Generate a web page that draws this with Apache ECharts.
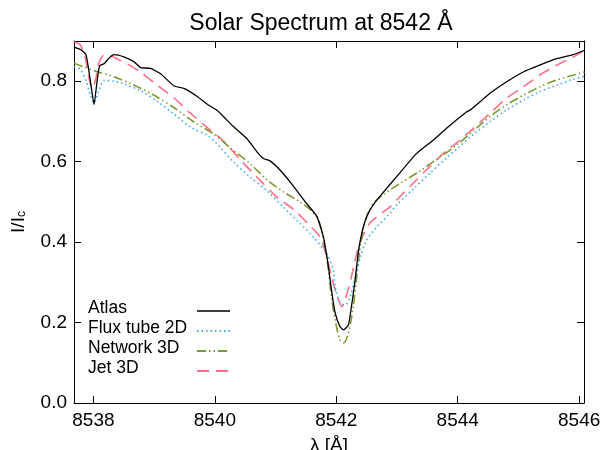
<!DOCTYPE html>
<html>
<head>
<meta charset="utf-8">
<script src="https://cdn.jsdelivr.net/npm/echarts@6/dist/echarts.min.js"></script>
<style>html,body{margin:0;padding:0;background:#fff}#c{width:610px;height:450px}</style>
</head>
<body>
<div id="c"></div>
<script>
// ---- data (wavelength [Å], I/Ic) ----
const seriesNames = ['Atlas', 'Flux tube 2D', 'Network 3D', 'Jet 3D'];
const xTicks = [8538, 8540, 8542, 8544, 8546];
const yTicks = [0.0, 0.2, 0.4, 0.6, 0.8];

const atlas = [[8537.68,0.885],[8537.80,0.878],[8537.88,0.865],[8537.95,0.80],[8538.01,0.742],[8538.06,0.80],[8538.10,0.838],[8538.18,0.844],[8538.26,0.858],[8538.34,0.866],[8538.51,0.860],[8538.67,0.848],[8538.78,0.834],[8538.94,0.832],[8539.11,0.818],[8539.33,0.788],[8539.49,0.782],[8539.71,0.762],[8539.88,0.742],[8540.04,0.727],[8540.30,0.688],[8540.53,0.657],[8540.69,0.625],[8540.80,0.608],[8540.91,0.602],[8541.08,0.578],[8541.29,0.540],[8541.51,0.496],[8541.68,0.464],[8541.79,0.412],[8541.87,0.340],[8541.92,0.282],[8541.98,0.225],[8542.06,0.190],[8542.12,0.182],[8542.20,0.194],[8542.25,0.240],[8542.31,0.305],[8542.36,0.372],[8542.42,0.422],[8542.50,0.463],[8542.61,0.493],[8542.77,0.523],[8542.99,0.562],[8543.32,0.620],[8543.60,0.654],[8543.87,0.690],[8544.15,0.724],[8544.22,0.730],[8544.37,0.749],[8544.53,0.770],[8544.80,0.798],[8545.08,0.823],[8545.35,0.840],[8545.63,0.856],[8545.90,0.866],[8546.09,0.877]];

const fluxTube = [[8537.68,0.836],[8537.78,0.830],[8537.88,0.800],[8537.95,0.765],[8538.01,0.746],[8538.08,0.772],[8538.18,0.802],[8538.34,0.800],[8538.51,0.793],[8538.78,0.776],[8539.05,0.750],[8539.33,0.718],[8539.60,0.686],[8539.88,0.665],[8540.03,0.645],[8540.30,0.600],[8540.58,0.562],[8540.85,0.529],[8541.12,0.488],[8541.40,0.447],[8541.62,0.413],[8541.84,0.372],[8541.95,0.331],[8541.98,0.290],[8542.06,0.250],[8542.15,0.244],[8542.23,0.265],[8542.31,0.314],[8542.40,0.364],[8542.50,0.405],[8542.67,0.438],[8542.88,0.471],[8542.99,0.492],[8543.27,0.532],[8543.54,0.571],[8543.82,0.610],[8544.01,0.635],[8544.26,0.668],[8544.53,0.699],[8544.80,0.728],[8545.08,0.753],[8545.35,0.774],[8545.63,0.790],[8545.90,0.805],[8546.09,0.812]];

const network = [[8537.68,0.845],[8538.01,0.826],[8538.34,0.811],[8538.67,0.790],[8539.00,0.765],[8539.33,0.734],[8539.66,0.698],[8539.99,0.668],[8540.27,0.632],[8540.58,0.595],[8540.85,0.556],[8541.13,0.525],[8541.40,0.500],[8541.62,0.474],[8541.73,0.445],[8541.81,0.389],[8541.87,0.331],[8541.92,0.265],[8541.98,0.207],[8542.06,0.157],[8542.12,0.149],[8542.20,0.174],[8542.28,0.240],[8542.33,0.306],[8542.38,0.372],[8542.44,0.430],[8542.52,0.471],[8542.63,0.500],[8542.77,0.518],[8543.05,0.546],[8543.38,0.577],[8543.71,0.612],[8543.98,0.641],[8544.26,0.677],[8544.53,0.712],[8544.80,0.741],[8545.08,0.765],[8545.35,0.786],[8545.63,0.803],[8545.90,0.815],[8546.09,0.823]];

const jet = [[8537.68,0.898],[8537.79,0.889],[8537.87,0.856],[8537.93,0.807],[8537.98,0.782],[8538.04,0.807],[8538.09,0.844],[8538.17,0.864],[8538.26,0.864],[8538.37,0.857],[8538.56,0.843],[8538.78,0.822],[8539.05,0.790],[8539.33,0.758],[8539.60,0.720],[8539.88,0.684],[8540.15,0.650],[8540.43,0.603],[8540.69,0.562],[8541.02,0.512],[8541.29,0.482],[8541.57,0.440],[8541.73,0.413],[8541.84,0.364],[8541.92,0.314],[8542.01,0.269],[8542.09,0.240],[8542.17,0.269],[8542.25,0.314],[8542.31,0.356],[8542.42,0.409],[8542.55,0.447],[8542.72,0.469],[8542.88,0.487],[8542.99,0.504],[8543.27,0.547],[8543.54,0.588],[8543.82,0.628],[8544.01,0.650],[8544.26,0.683],[8544.53,0.720],[8544.80,0.757],[8545.08,0.786],[8545.35,0.815],[8545.63,0.840],[8545.90,0.860],[8546.09,0.877]];

const colors = ['#000000', '#3fa9f5', '#7b9a2e', '#ff6f8a'];
const dashes = ['solid', [1.5, 3], [9, 3, 1.5, 3, 1.5, 3], [12, 7]];
const widths = [1.3, 1.6, 1.6, 1.6];

const FONT = 'Liberation Sans, Arial, Helvetica, sans-serif';
const chart = echarts.init(document.getElementById('c'), null, {renderer: 'canvas'});

const xBase = {
  type: 'value', min: 8537.68, max: 8546.08,
  axisLine: {show: true, onZero: false, lineStyle: {color: '#000', width: 1}},
  splitLine: {show: false}
};
const yBase = {
  type: 'value', min: 0, max: 0.9,
  axisLine: {show: true, onZero: false, lineStyle: {color: '#000', width: 1}},
  splitLine: {show: false}
};

const allData = [atlas, fluxTube, network, jet];

const legendRows = seriesNames.map((n, i) => {
  const y = 309 + i * 20;
  return [
    {type: 'text', left: 88, top: y - 10, style: {text: n, font: '17.5px ' + FONT, fill: '#000'}},
    {type: 'line', shape: {x1: 197, y1: y + 2, x2: 230, y2: y + 2},
     style: {stroke: colors[i], lineWidth: widths[i] + 0.2, lineDash: dashes[i] === 'solid' ? null : dashes[i]}}
  ];
}).flat();

chart.setOption({
  animation: false,
  backgroundColor: '#fff',
  title: {
    text: 'Solar Spectrum at 8542 Å', left: 316, top: 7, textAlign: 'center',
    textStyle: {fontFamily: FONT, fontSize: 23, fontWeight: 'normal', color: '#000'}
  },
  grid: {left: 74, right: 26, top: 41, bottom: 47, containLabel: false, outerBoundsMode: 'none'},
  xAxis: [
    Object.assign({}, xBase, {
      position: 'bottom',
      name: 'λ [Å]', nameLocation: 'middle', nameGap: 33,
      nameTextStyle: {fontFamily: FONT, fontSize: 19, color: '#000'},
      axisTick: {show: true, inside: true, length: 7, customValues: xTicks, lineStyle: {color: '#000'}},
      axisLabel: {show: true, customValues: xTicks, margin: 8, fontFamily: FONT, fontSize: 19, color: '#000',
                  formatter: v => String(v)}
    }),
    Object.assign({}, xBase, {
      position: 'top',
      axisTick: {show: true, inside: true, length: 7, customValues: xTicks, lineStyle: {color: '#000'}},
      axisLabel: {show: false}
    })
  ],
  yAxis: [
    Object.assign({}, yBase, {
      position: 'left',
      name: '{a|I/I}{b|c}', nameLocation: 'middle', nameGap: 46, nameRotate: 90,
      nameTextStyle: {fontFamily: FONT, fontSize: 19, color: '#000',
        rich: {a: {fontFamily: FONT, fontSize: 19, color: '#000'},
               b: {fontFamily: FONT, fontSize: 12, color: '#000', verticalAlign: 'bottom'}}},
      axisTick: {show: true, inside: true, length: 7, customValues: yTicks, lineStyle: {color: '#000'}},
      axisLabel: {show: true, customValues: yTicks, margin: 7, fontFamily: FONT, fontSize: 19, color: '#000',
                  formatter: v => v.toFixed(1)}
    }),
    Object.assign({}, yBase, {
      position: 'right',
      axisTick: {show: true, inside: true, length: 7, customValues: yTicks, lineStyle: {color: '#000'}},
      axisLabel: {show: false}
    })
  ],
  series: seriesNames.map((n, i) => ({
    name: n, type: 'line', data: allData[i], xAxisIndex: 0, yAxisIndex: 0,
    showSymbol: false, symbol: 'none', smooth: i === 0 ? 0.15 : 0.3,
    lineStyle: {color: colors[i], width: widths[i], type: dashes[i]},
    z: 10 - i
  })),
  graphic: legendRows
});
</script>
</body>
</html>
